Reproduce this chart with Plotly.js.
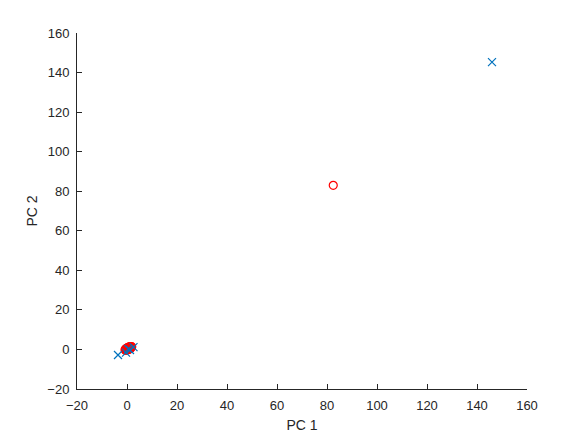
<!DOCTYPE html>
<html>
<head>
<meta charset="utf-8">
<script src="https://cdn.plot.ly/plotly-3.0.1.min.js"></script>
<style>html,body{margin:0;padding:0;background:#fff;}#chart{width:583px;height:438px;}</style>
</head>
<body>
<div id="chart"></div>
<script>
// Group 1 (red circles): PC1 / PC2 scores
var redPC1 = [-0.8,-0.6,-0.4,-0.3,-0.1,0,0.1,0.2,0.3,0.4,0.5,0.6,0.7,0.8,0.9,1.0,1.1,1.2,1.4,1.5,1.7,1.9,-0.5,0,0.3,0.6,0.9,1.2,1.5,0.2,0.5,0.8,1.1,-0.2,0.4,1.0,82.5];
var redPC2 = [-0.2,-0.4,0.1,-0.3,0.2,-0.1,0.4,0.0,0.6,0.2,0.5,0.8,0.3,0.9,0.6,1.1,0.7,1.0,1.2,0.9,1.3,1.4,0.3,0.5,-0.2,0.0,0.2,0.4,0.6,0.9,1.0,1.2,1.4,0.6,0.7,0.5,83];
// Group 2 (blue crosses)
var bluePC1 = [-3.6,-0.4,1.2,2.6,0.5,146];
var bluePC2 = [-2.8,-1.6,-0.3,1.2,0.3,145.3];
var tickVals = [-20,0,20,40,60,80,100,120,140,160];

var font = {family:'Liberation Sans, Arial, sans-serif', size:13, color:'#262626'};
var axisBase = {
  range:[-20,160], tickvals:tickVals, ticks:'inside', ticklen:5, tickcolor:'#262626',
  showline:true, linecolor:'#262626', linewidth:1, showgrid:false, zeroline:false,
  tickfont:font, mirror:false, ticklabelstandoff:4
};
var data = [
  {x:redPC1, y:redPC2, mode:'markers', type:'scatter',
   marker:{symbol:'circle-open', size:8, color:'#FF0000', line:{width:1.2, color:'#FF0000'}}},
  {x:bluePC1, y:bluePC2, mode:'markers', type:'scatter',
   marker:{symbol:'x-thin-open', size:8, color:'#0072BD', line:{width:1.2, color:'#0072BD'}}}
];
var layout = {
  width:583, height:438, showlegend:false,
  paper_bgcolor:'#fff', plot_bgcolor:'#fff',
  margin:{l:77, r:56, t:33, b:49},
  xaxis:Object.assign({}, axisBase, {title:{text:'PC 1', font:{family:font.family, size:14, color:'#262626'}, standoff:8}}),
  yaxis:Object.assign({}, axisBase, {title:{text:'PC 2', font:{family:font.family, size:14, color:'#262626'}, standoff:6}})
};
Plotly.newPlot('chart', data, layout, {displayModeBar:false, staticPlot:true});
</script>
</body>
</html>
